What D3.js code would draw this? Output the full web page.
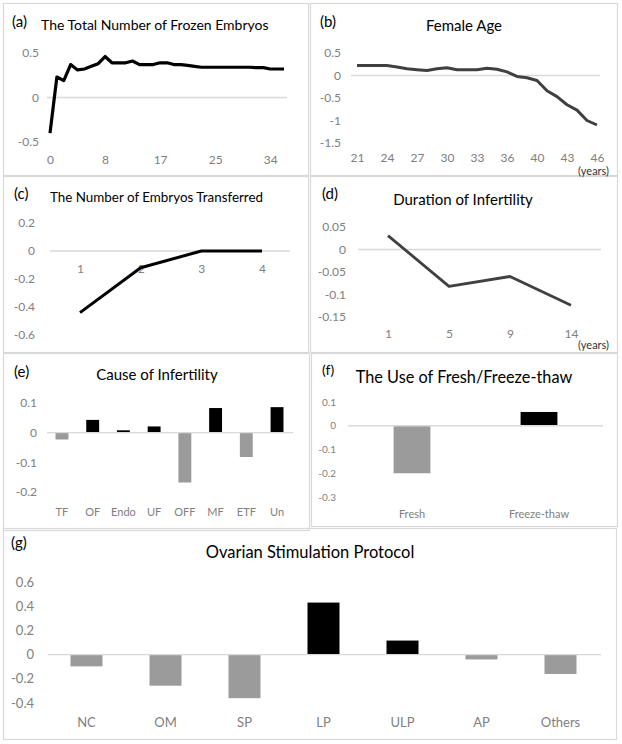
<!DOCTYPE html>
<html><head><meta charset="utf-8">
<script src="https://cdn.jsdelivr.net/npm/d3@7"></script>
<style>body{margin:0;background:#fff} svg{display:block}</style>
</head><body><svg id="c" width="622" height="744"></svg>
<script>
// ---------- DATA ----------
const frozenCategories = [0,1,2,3,4,5,6,7,8,9,10,11,12,13,14,15,17,18,19,20,21,22,23,24,25,26,27,28,29,30,31,32,34,35,36];
const frozenValues = [-0.40,0.23,0.19,0.37,0.31,0.32,0.35,0.38,0.46,0.39,0.39,0.39,0.41,0.37,0.37,0.37,0.39,0.39,0.37,0.37,0.36,0.35,0.34,0.34,0.34,0.34,0.34,0.34,0.34,0.34,0.335,0.335,0.32,0.32,0.32];
const frozenTicks = [0,8,17,25,34];
const frozenYTicks = [-0.5,0,0.5];

const ageCategories = [21,22,23,24,25,26,27,28,29,30,31,32,33,34,35,36,37,38,40,41,42,43,44,45,46];
const ageValues = [0.225,0.225,0.22,0.22,0.19,0.15,0.13,0.11,0.15,0.17,0.13,0.13,0.13,0.16,0.14,0.08,-0.02,-0.05,-0.11,-0.34,-0.47,-0.65,-0.77,-1.0,-1.1];
const ageTicks = [21,24,27,30,33,36,40,43,46];
const ageYTicks = [-1.5,-1,-0.5,0,0.5];

const transferredCategories = ["1","2","3","4"];
const transferredValues = [-0.44,-0.12,0.0,0.0];
const transferredYTicks = [-0.6,-0.4,-0.2,0,0.2];

const durationCategories = ["1","5","9","14"];
const durationValues = [0.031,-0.082,-0.06,-0.124];
const durationYTicks = [-0.15,-0.1,-0.05,0,0.05];

const causeCategories = ["TF","OF","Endo","UF","OFF","MF","ETF","Un"];
const causeValues = [-0.023,0.043,0.008,0.021,-0.168,0.083,-0.082,0.086];
const causeYTicks = [-0.2,-0.1,0,0.1];

const freshCategories = ["Fresh","Freeze-thaw"];
const freshValues = [-0.2,0.058];
const freshYTicks = [-0.3,-0.2,-0.1,0,0.1];

const protocolCategories = ["NC","OM","SP","LP","ULP","AP","Others"];
const protocolValues = [-0.097,-0.257,-0.36,0.43,0.116,-0.04,-0.16];
const protocolYTicks = [-0.4,-0.2,0,0.2,0.4,0.6];

// ---------- DRAW ----------
const FONT = "Lato, 'Open Sans', sans-serif";
const GRID = "#d9d9d9", TICK = "#808080", GREY = "#9b9b9b";
const fmt = v => String(+(+v).toFixed(2));
const svg = d3.select("#c");
svg.append("rect").attr("width",622).attr("height",744).attr("fill","#fff");

function frame(x0,y0,x1,y1){
  svg.append("rect").attr("x",x0+0.5).attr("y",y0+0.5).attr("width",x1-x0).attr("height",y1-y0)
    .attr("fill","none").attr("stroke",GRID).attr("stroke-width",1.2);
}
function label(txt,x,y,size,anchor,color){
  svg.append("text").attr("x",x).attr("y",y).attr("dy","0.35em").attr("text-anchor",anchor||"start")
    .attr("font-family",FONT).attr("font-size",size).attr("fill",color||"#000").text(txt);
}
function yAxis(scale,ticks,xRight,fs){
  svg.append("g").attr("transform",`translate(${xRight},0)`)
    .call(d3.axisLeft(scale).tickValues(ticks).tickSize(0).tickPadding(0).tickFormat(fmt))
    .call(a=>a.select(".domain").remove())
    .call(a=>a.selectAll("text").attr("fill",TICK).attr("font-size",fs).attr("font-family",FONT));
}
function xAxis(scale,ticks,yCenter,fs){
  const ax = d3.axisBottom(scale).tickSize(0).tickPadding(0);
  if(ticks) ax.tickValues(ticks);
  svg.append("g").attr("transform",`translate(0,${yCenter})`).call(ax)
    .call(a=>a.select(".domain").remove())
    .call(a=>a.selectAll("text").attr("y",0).attr("dy","0.35em").attr("fill",TICK).attr("font-size",fs).attr("font-family",FONT));
}
function zero(y,x0,x1){
  svg.append("line").attr("x1",x0).attr("x2",x1).attr("y1",y(0)).attr("y2",y(0)).attr("stroke",GRID).attr("stroke-width",1.3);
}
function linePanel(cats,vals,x,y,color,w){
  svg.append("path").datum(vals.map((v,i)=>[cats[i],v]))
    .attr("fill","none").attr("stroke",color).attr("stroke-width",w).attr("stroke-linejoin","round")
    .attr("d",d3.line().x(d=>x(d[0])).y(d=>y(d[1])));
}
function bars(cats,vals,x,y){
  svg.append("g").selectAll("rect").data(vals.map((v,i)=>[cats[i],v])).join("rect")
    .attr("x",d=>x(d[0])).attr("width",x.bandwidth())
    .attr("y",d=>y(Math.max(0,d[1]))).attr("height",d=>Math.abs(y(d[1])-y(0)))
    .attr("fill",d=>d[1]<0?GREY:"#000");
}

// frames
frame(3,3,308,175); frame(310,3,617,175);
frame(3,176,308,352); frame(310,176,617,352);
frame(3,353,309,530); frame(311,353,617,526);
frame(3,528,616,739);

// (a)
{
  const x = d3.scalePoint().domain(frozenCategories).range([50,284]);
  const y = d3.scaleLinear().domain([-0.5,0.5]).range([142,53]);
  zero(y,47,287);
  yAxis(y,frozenYTicks,39,12);
  xAxis(x,frozenTicks,160,12);
  linePanel(frozenCategories,frozenValues,x,y,"#000",3.2);
  label("(a)",12,22,15);
  label("The Total Number of Frozen Embryos",41,25,14);
}
// (b)
{
  const x = d3.scalePoint().domain(ageCategories).range([357,597]);
  const y = d3.scaleLinear().domain([-1.5,0.5]).range([143,53]);
  zero(y,351,600);
  yAxis(y,ageYTicks,341,12);
  xAxis(x,ageTicks,158,12);
  linePanel(ageCategories,ageValues,x,y,"#404040",3);
  label("(b)",320,22,15);
  label("Female Age",464,26,15,"middle");
  label("(years)",578,171,11,"start","#333");
}
// (c)
{
  const x = d3.scalePoint().domain(transferredCategories).range([80,262]);
  const y = d3.scaleLinear().domain([-0.6,0.2]).range([335,223]);
  zero(y,50,290);
  yAxis(y,transferredYTicks,35,12);
  xAxis(x,null,269,12);
  linePanel(transferredCategories,transferredValues,x,y,"#000",3);
  label("(c)",14,194,15);
  label("The Number of Embryos Transferred",50,197,13.4);
}
// (d)
{
  const x = d3.scalePoint().domain(durationCategories).range([388,571]);
  const y = d3.scaleLinear().domain([-0.15,0.05]).range([317,227]);
  zero(y,358,601);
  yAxis(y,durationYTicks,346,12);
  xAxis(x,null,334,12);
  linePanel(durationCategories,durationValues,x,y,"#404040",2.8);
  label("(d)",322,194,15);
  label("Duration of Infertility",463,200,15,"middle");
  label("(years)",578,345,11,"start","#333");
}
// (e)
{
  const x = d3.scaleBand().domain(causeCategories).range([46.6,292.4]).paddingInner(0.58).paddingOuter(0.29);
  const y = d3.scaleLinear().domain([-0.2,0.1]).range([492,403]);
  bars(causeCategories,causeValues,x,y);
  zero(y,47,293);
  yAxis(y,causeYTicks,37,12);
  xAxis(x,null,512,11);
  label("(e)",14,372,15);
  label("Cause of Infertility",157,375,15,"middle");
}
// (f)
{
  const x = d3.scaleBand().domain(freshCategories).range([348.5,602.5]).paddingInner(0.71).paddingOuter(0.355);
  const y = d3.scaleLinear().domain([-0.3,0.1]).range([497,402]);
  bars(freshCategories,freshValues,x,y);
  zero(y,348,603);
  yAxis(y,freshYTicks,336,10);
  xAxis(x,null,514,11);
  label("(f)",322,370,14);
  label("The Use of Fresh/Freeze-thaw",464,377,16.3,"middle");
}
// (g)
{
  const x = d3.scaleBand().domain(protocolCategories).range([47,600]).paddingInner(0.595).paddingOuter(0.2975);
  const y = d3.scaleLinear().domain([-0.4,0.6]).range([703,582]);
  bars(protocolCategories,protocolValues,x,y);
  zero(y,48,601);
  yAxis(y,protocolYTicks,34,13);
  xAxis(x,null,722,13);
  label("(g)",11,543,15);
  label("Ovarian Stimulation Protocol",310,552,16.5,"middle");
}
</script></body></html>
